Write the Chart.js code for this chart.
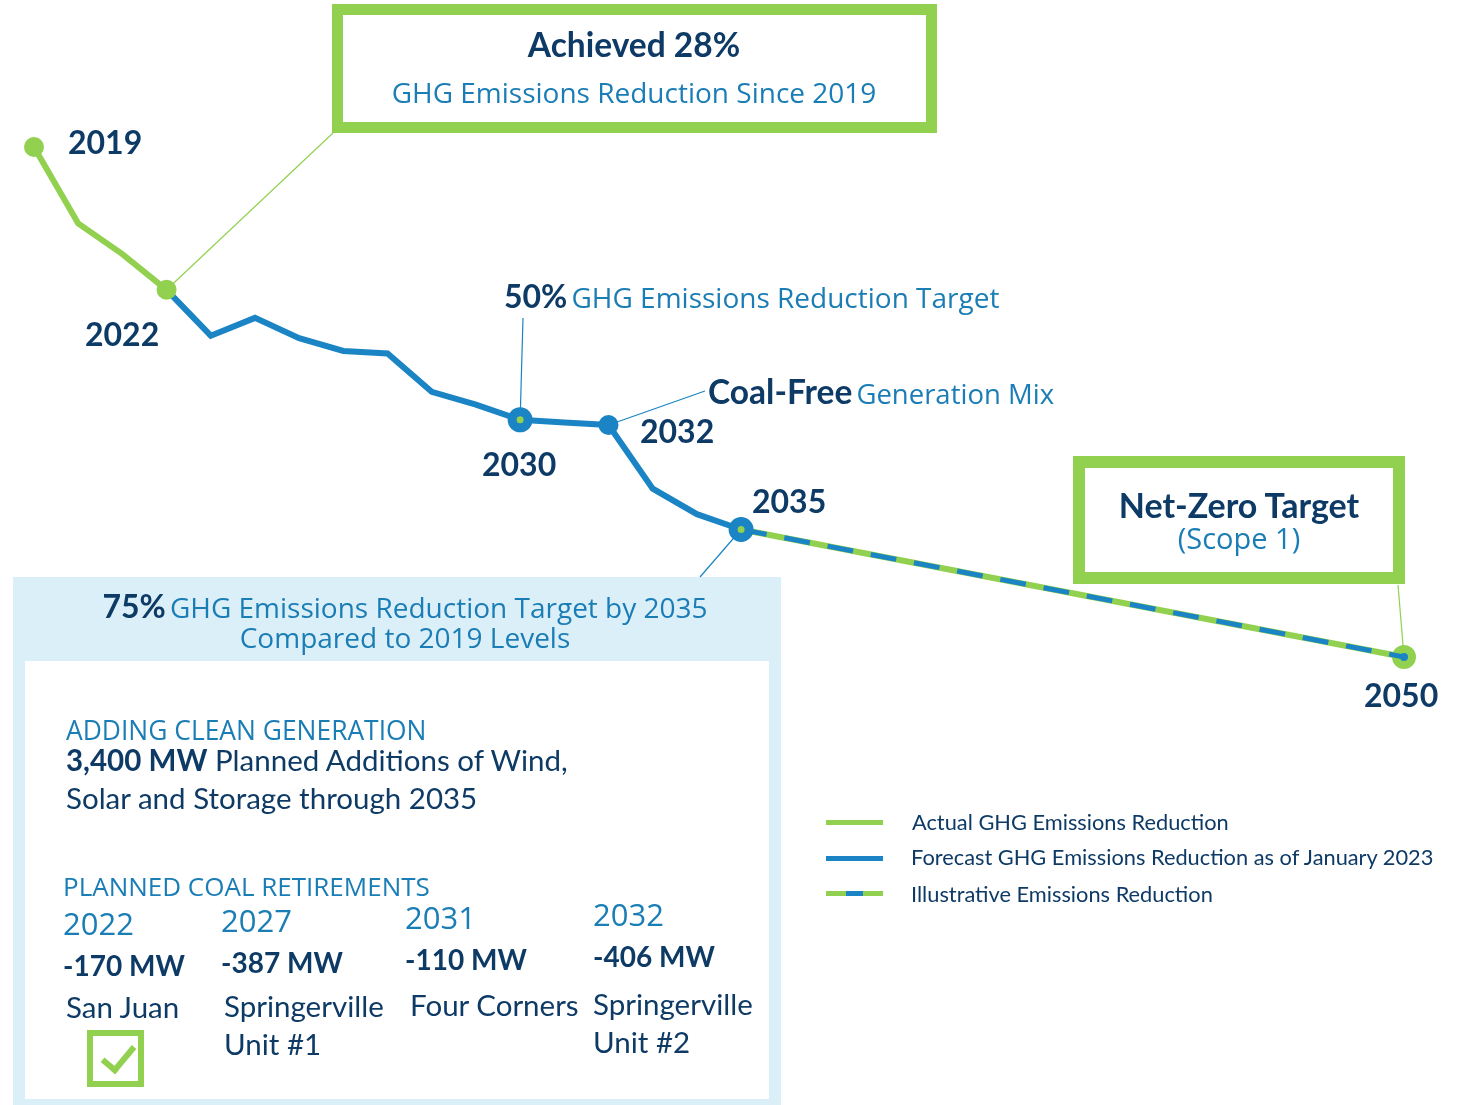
<!DOCTYPE html>
<html lang="en">
<head>
<meta charset="UTF-8">
<title>GHG Emissions Reduction</title>
<script src="https://cdn.jsdelivr.net/npm/chart.js"></script>
<style>
    body { margin: 0; background: #fff; }
    .page { position: relative; width: 1463px; height: 1105px; overflow: hidden; font-family: Lato, sans-serif; }
    .chart-wrap { position: absolute; left: 0; top: 0; width: 1463px; height: 1105px; z-index: 2; pointer-events: none; }
    .t { position: absolute; white-space: nowrap; line-height: 1; transform: translateY(-50%); z-index: 3; }
    .navy { color: #0E3A66; }
    .blue { color: #1A7DB5; font-family: "Open Sans", sans-serif; }
    .bold { font-weight: 700; }
    .year { font-size: 32px; font-weight: 700; color: #0E3A66; }
    .green-box { position: absolute; border: 11px solid #92D050; background: #fff; z-index: 1; box-sizing: border-box; }
    .panel { position: absolute; left: 13px; top: 577px; width: 768px; height: 528px; background: #DBEFF8; z-index: 1; }
    .panel-inner { position: absolute; left: 12px; top: 84px; width: 744px; height: 438px; background: #fff; }
    .center { text-align: center; transform: translate(-50%, -50%); }
    .legend-line { position: absolute; left: 826px; width: 57px; height: 5px; z-index: 3; }
    .check { position: absolute; left: 87px; top: 1030px; width: 57px; height: 57px; border: 6px solid #92D050; box-sizing: border-box; z-index: 3; }
    .check::after { content: ""; position: absolute; left: 16px; top: 3px; width: 13px; height: 27px; border-right: 6px solid #92D050; border-bottom: 6px solid #92D050; transform: rotate(40deg); }
</style>
</head>
<body>
<div class="page">
    <!-- boxes -->
    <div class="green-box" style="left:332px; top:4px; width:605px; height:129px;"></div>
    <div class="green-box" style="left:1073px; top:456px; width:332px; height:128px; border-width:12px;"></div>
    <div class="panel"><div class="panel-inner"></div></div>

    <div class="chart-wrap"><canvas id="ghgChart"></canvas></div>

    <!-- callouts -->
    <div class="t center navy bold" style="left:634px; top:45px; font-size:33.5px;">Achieved 28%</div>
    <div class="t center blue" style="left:634px; top:92px; font-size:28px;">GHG Emissions Reduction Since 2019</div>

    <div class="t year" style="left:68px; top:142px;">2019</div>
    <div class="t year" style="left:85px; top:334px;">2022</div>
    <div class="t year" style="left:482px; top:464px;">2030</div>
    <div class="t year" style="left:640px; top:431px;">2032</div>
    <div class="t year" style="left:752px; top:501px;">2035</div>
    <div class="t year" style="left:1364px; top:695px;">2050</div>

    <div class="t" style="left:504px; top:296px;"><span class="navy bold" style="font-size:32px;">50%</span> <span class="blue" style="font-size:28px;">GHG Emissions Reduction Target</span></div>
    <div class="t" style="left:708px; top:392px;"><span class="navy bold" style="font-size:33.5px;">Coal-Free</span> <span class="blue" style="font-size:27.5px;">Generation Mix</span></div>

    <div class="t center navy bold" style="left:1239px; top:505px; font-size:34px;">Net-Zero Target</div>
    <div class="t center blue" style="left:1239px; top:537px; font-size:29px;">(Scope 1)</div>

    <!-- panel text -->
    <div class="t center" style="left:405px; top:606px;"><span class="navy bold" style="font-size:32px;">75%</span> <span class="blue" style="font-size:28px;">GHG Emissions Reduction Target by 2035</span></div>
    <div class="t center blue" style="left:405px; top:637px; font-size:28px;">Compared to 2019 Levels</div>

    <div class="t blue" style="left:66px; top:730px; font-size:26.4px;">ADDING CLEAN GENERATION</div>
    <div class="t navy" style="left:66px; top:760px; font-size:29.5px;"><b>3,400 MW</b> Planned Additions of Wind,</div>
    <div class="t navy" style="left:66px; top:798px; font-size:29.5px;">Solar and Storage through 2035</div>

    <div class="t blue" style="left:63px; top:886px; font-size:26px;">PLANNED COAL RETIREMENTS</div>
    <div id="retirements"></div>
    <div class="check"></div>

    <!-- legend -->
    <div class="legend-line" style="top:820px; background:#92D050;"></div>
    <div class="legend-line" style="top:856px; background:#1A84C4;"></div>
    <div class="legend-line" style="top:891px; background:linear-gradient(90deg,#92D050 0 20px,#1A84C4 20px 37px,#92D050 37px);"></div>
    <div class="t navy" style="left:912px; top:822px; font-size:21.8px;">Actual GHG Emissions Reduction</div>
    <div class="t navy" style="left:911px; top:857px; font-size:21.8px;">Forecast GHG Emissions Reduction as of January 2023</div>
    <div class="t navy" style="left:911px; top:894px; font-size:21.8px;">Illustrative Emissions Reduction</div>
</div>

<script>
    // % reduction vs 2019
    const actualYears = [2019, 2020, 2021, 2022];
    const actualValues = [0, 15, 21, 28];

    const forecastYears = [2022, 2023, 2024, 2025, 2026, 2027, 2028, 2029, 2030, 2031, 2032, 2033, 2034, 2035];
    const forecastValues = [28, 37, 33.5, 37.5, 40, 40.5, 48, 50.5, 53.5, 54, 54.5, 67, 72, 75];

    const illustrativeYears = [2035, 2050];
    const illustrativeValues = [75, 100];

    // planned coal retirements table
    const retireYears = ['2022', '2027', '2031', '2032'];
    const retireMW = ['-170 MW', '-387 MW', '-110 MW', '-406 MW'];
    const retireUnits = [['San Juan'], ['Springerville', 'Unit #1'], ['Four Corners'], ['Springerville', 'Unit #2']];

    const GREEN = '#92D050';
    const BLUE = '#1A84C4';

    // build the retirements columns (slightly tilted like the original)
    const colX = [63, 221, 405, 593];
    const nameX = [66, 224, 410, 593];
    const colShift = [0, -3, -6, -9];
    let html = '';
    retireYears.forEach((yr, i) => {
        const x = colX[i], d = colShift[i];
        html += `<div class="t blue" style="left:${x}px; top:${923 + d}px; font-size:31px;">${yr}</div>`;
        html += `<div class="t navy bold" style="left:${x}px; top:${965 + d}px; font-size:28px;">${retireMW[i]}</div>`;
        retireUnits[i].forEach((u, j) => {
            html += `<div class="t navy" style="left:${nameX[i]}px; top:${1007 + j * 38 + d / 3}px; font-size:29.5px;">${u}</div>`;
        });
    });
    document.getElementById('retirements').innerHTML = html;

    const toXY = (xs, ys) => xs.map((x, i) => ({ x: x, y: ys[i] }));

    // thin leader lines from callouts to data points
    const leaders = [
        { year: 2022, value: 28, to: [333, 133], color: GREEN },
        { year: 2030, value: 53.5, to: [523, 318], color: BLUE },
        { year: 2032, value: 54.5, to: [705, 391], color: BLUE },
        { year: 2035, value: 75, to: [700, 577], color: BLUE },
        { year: 2050, value: 100, to: [1398, 585], color: GREEN }
    ];

    const leaderPlugin = {
        id: 'leaders',
        beforeDatasetsDraw(chart) {
            const c = chart.ctx;
            const sx = chart.scales.x, sy = chart.scales.y;
            c.save();
            c.lineWidth = 1.2;
            leaders.forEach(l => {
                c.strokeStyle = l.color;
                c.beginPath();
                c.moveTo(sx.getPixelForValue(l.year), sy.getPixelForValue(l.value));
                c.lineTo(l.to[0], l.to[1]);
                c.stroke();
            });
            c.restore();
        }
    };

    // per-point marker styles for the forecast line
    const fRadius = forecastYears.map(y => y == 2030 || y == 2035 ? 8 : (y == 2032 ? 10 : 0));
    const fBorder = forecastYears.map(y => y == 2030 || y == 2035 ? 9 : 0);

    const data = {
        datasets: [
            {
                label: 'Actual GHG Emissions Reduction',
                data: toXY(actualYears, actualValues),
                borderColor: GREEN,
                borderWidth: 6,
                pointRadius: actualYears.map(y => y == 2019 || y == 2022 ? 10 : 0),
                pointBackgroundColor: GREEN,
                pointBorderWidth: 0,
                clip: false
            },
            {
                label: 'Forecast GHG Emissions Reduction as of January 2023',
                data: toXY(forecastYears, forecastValues),
                borderColor: BLUE,
                borderWidth: 6,
                pointRadius: fRadius,
                pointBackgroundColor: forecastYears.map(y => y == 2032 ? BLUE : GREEN),
                pointBorderColor: BLUE,
                pointBorderWidth: fBorder,
                clip: false
            },
            {
                label: 'Illustrative (dash)',
                data: toXY(illustrativeYears, illustrativeValues),
                borderColor: BLUE,
                borderWidth: 5,
                borderDash: [26, 18],
                pointRadius: 0,
                clip: false
            },
            {
                label: 'Illustrative Emissions Reduction',
                data: toXY(illustrativeYears, illustrativeValues),
                borderColor: GREEN,
                borderWidth: 6,
                pointRadius: illustrativeYears.map(y => y == 2050 ? 8 : 0),
                pointBackgroundColor: BLUE,
                pointBorderColor: GREEN,
                pointBorderWidth: 8,
                clip: false
            }
        ]
    };

    const config = {
        type: 'line',
        data: data,
        plugins: [leaderPlugin],
        options: {
            responsive: true,
            maintainAspectRatio: false,
            animation: false,
            layout: { padding: { left: 34, right: 59, top: 147, bottom: 448 } },
            scales: {
                x: { type: 'linear', min: 2019, max: 2050, display: false },
                y: { min: 0, max: 100, reverse: true, display: false }
            },
            plugins: {
                legend: { display: false },
                tooltip: { enabled: false }
            }
        }
    };

    new Chart(document.getElementById('ghgChart').getContext('2d'), config);
</script>
</body>
</html>
